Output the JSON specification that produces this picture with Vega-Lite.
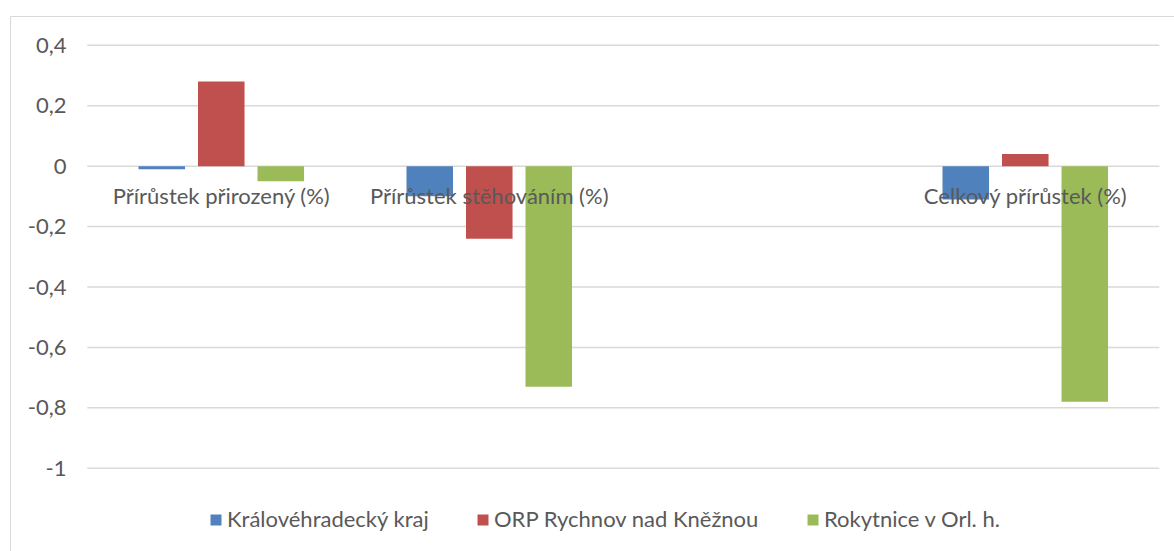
{
  "$schema": "https://vega.github.io/schema/vega-lite/v6.json",
  "autosize": "none",
  "width": 1164,
  "height": 535,
  "padding": {"left": 10, "top": 16, "right": 0, "bottom": 0},
  "background": "white",
  "config": {
    "view": {"stroke": "#d9d9d9", "strokeWidth": 1}
  },
  "datasets": {
    "hodnoty": [
      {"ukazatel": "Přírůstek přirozený (%)", "uzemi": "Královéhradecký kraj", "hodnota": -0.01},
      {"ukazatel": "Přírůstek přirozený (%)", "uzemi": "ORP Rychnov nad Kněžnou", "hodnota": 0.28},
      {"ukazatel": "Přírůstek přirozený (%)", "uzemi": "Rokytnice v Orl. h.", "hodnota": -0.05},
      {"ukazatel": "Přírůstek stěhováním (%)", "uzemi": "Královéhradecký kraj", "hodnota": -0.10},
      {"ukazatel": "Přírůstek stěhováním (%)", "uzemi": "ORP Rychnov nad Kněžnou", "hodnota": -0.24},
      {"ukazatel": "Přírůstek stěhováním (%)", "uzemi": "Rokytnice v Orl. h.", "hodnota": -0.73},
      {"ukazatel": "Celkový přírůstek (%)", "uzemi": "Královéhradecký kraj", "hodnota": -0.11},
      {"ukazatel": "Celkový přírůstek (%)", "uzemi": "ORP Rychnov nad Kněžnou", "hodnota": 0.04},
      {"ukazatel": "Celkový přírůstek (%)", "uzemi": "Rokytnice v Orl. h.", "hodnota": -0.78}
    ],
    "mrizka": [
      {"v": 0.4, "od": "Přírůstek přirozený (%)", "do": "Celkový přírůstek (%)"},
      {"v": 0.2, "od": "Přírůstek přirozený (%)", "do": "Celkový přírůstek (%)"},
      {"v": 0, "od": "Přírůstek přirozený (%)", "do": "Celkový přírůstek (%)"},
      {"v": -0.2, "od": "Přírůstek přirozený (%)", "do": "Celkový přírůstek (%)"},
      {"v": -0.4, "od": "Přírůstek přirozený (%)", "do": "Celkový přírůstek (%)"},
      {"v": -0.6, "od": "Přírůstek přirozený (%)", "do": "Celkový přírůstek (%)"},
      {"v": -0.8, "od": "Přírůstek přirozený (%)", "do": "Celkový přírůstek (%)"},
      {"v": -1, "od": "Přírůstek přirozený (%)", "do": "Celkový přírůstek (%)"}
    ],
    "kategorie": [
      {"ukazatel": "Přírůstek přirozený (%)"},
      {"ukazatel": "Přírůstek stěhováním (%)"},
      {"ukazatel": "Celkový přírůstek (%)"}
    ]
  },
  "layer": [
    {
      "data": {"name": "mrizka"},
      "mark": {"type": "rule", "color": "#d9d9d9", "strokeWidth": 1.5},
      "encoding": {
        "y": {"field": "v", "type": "quantitative"},
        "x": {"field": "od", "type": "nominal", "bandPosition": 0, "axis": null},
        "x2": {"field": "do", "bandPosition": 1}
      }
    },
    {
      "data": {"name": "hodnoty"},
      "mark": {"type": "bar"},
      "encoding": {
        "x": {
          "field": "ukazatel", "type": "nominal",
          "scale": {
            "domain": ["Přírůstek přirozený (%)", "Přírůstek stěhováním (%)", "(prázdné)", "Celkový přírůstek (%)"],
            "paddingInner": 0, "paddingOuter": 0.1716, "align": 0.84
          },
          "axis": null
        },
        "xOffset": {
          "field": "uzemi", "type": "nominal",
          "scale": {
            "domain": ["Královéhradecký kraj", "ORP Rychnov nad Kněžnou", "Rokytnice v Orl. h."],
            "paddingInner": 0.218, "paddingOuter": 0.861
          }
        },
        "y": {
          "field": "hodnota", "type": "quantitative",
          "scale": {"domain": [-1.2738, 0.497], "nice": false, "zero": false},
          "axis": {
            "values": [0.4, 0.2, 0, -0.2, -0.4, -0.6, -0.8, -1],
            "labelExpr": "replace(replace(format(datum.value, '.1~f'), '.', ','), '\u2212', '-')",
            "grid": false, "domain": false, "ticks": false, "tickSize": 0,
            "labelPadding": 0, "offset": -56, "title": null,
            "labelFont": "Lato", "labelFontSize": 22, "labelColor": "#595959"
          }
        },
        "y2": {"datum": 0},
        "color": {
          "field": "uzemi", "type": "nominal",
          "scale": {
            "domain": ["Královéhradecký kraj", "ORP Rychnov nad Kněžnou", "Rokytnice v Orl. h."],
            "range": ["#4F81BD", "#C0504D", "#9BBB59"]
          },
          "legend": {
            "orient": "none", "legendX": 195, "legendY": 493,
            "direction": "horizontal", "title": null,
            "symbolType": "square", "symbolSize": 121, "symbolStrokeWidth": 0,
            "labelFont": "Lato", "labelFontSize": 22, "labelColor": "#595959",
            "labelLimit": 0, "labelOffset": 0, "columnPadding": 42
          }
        }
      }
    },
    {
      "data": {"name": "kategorie"},
      "mark": {"type": "text", "font": "Lato", "fontSize": 22, "color": "#595959", "baseline": "alphabetic", "align": "center", "dy": 38},
      "encoding": {
        "x": {"field": "ukazatel", "type": "nominal", "axis": null},
        "y": {"datum": 0},
        "text": {"field": "ukazatel"}
      }
    }
  ]
}
